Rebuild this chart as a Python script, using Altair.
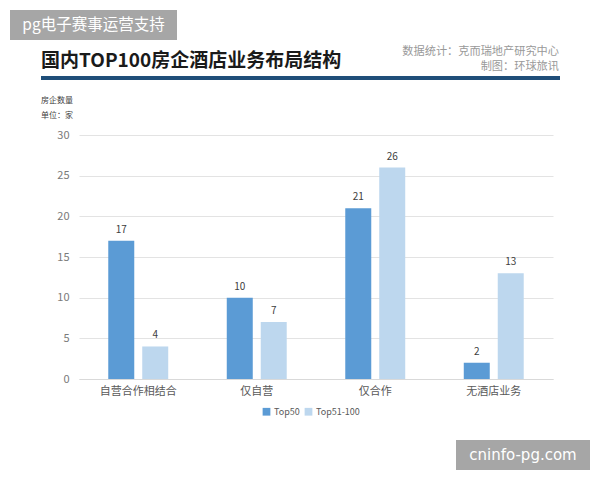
import altair as alt
import pandas as pd

categories = ["自营合作相结合", "仅自营", "仅合作", "无酒店业务"]
series = ["Top50", "Top51-100"]
top50 = [17, 10, 21, 2]
top51_100 = [4, 7, 26, 13]
colors = ["#5B9BD5", "#BDD7EE"]

rows = []
for c, a, b in zip(categories, top50, top51_100):
    rows.append({"类别": c, "系列": series[0], "数量": a})
    rows.append({"类别": c, "系列": series[1], "数量": b})
df = pd.DataFrame(rows)

FONT = "Noto Sans CJK SC"
OX, OY = 79, 135  # plot origin in page coordinates
W, H = 474, 244

x_enc = alt.X("类别:N", sort=categories,
              scale=alt.Scale(paddingInner=0.494, paddingOuter=0.247),
              axis=alt.Axis(title=None, labelAngle=0, labelFont=FONT, labelFontSize=11,
                            labelColor="#595959", ticks=False, domainColor="#d9d9d9",
                            labelPadding=6))
xo_enc = alt.XOffset("系列:N", sort=series, scale=alt.Scale(paddingInner=0.235, paddingOuter=0))
y_enc = alt.Y("数量:Q", scale=alt.Scale(domain=[0, 30]),
              axis=alt.Axis(title=None, values=[0, 5, 10, 15, 20, 25, 30], labelFont=FONT,
                            labelFontSize=11, labelColor="#7a7a7a", ticks=False, domain=False,
                            gridColor="#e3e3e3", labelPadding=10))
color_enc = alt.Color("系列:N", sort=series,
                      scale=alt.Scale(domain=series, range=colors),
                      legend=alt.Legend(title=None, orient="none", direction="horizontal",
                                        legendX=262 - OX, legendY=407 - OY,
                                        symbolType="square", symbolSize=60,
                                        symbolStrokeWidth=0,
                                        labelFont=FONT, labelFontSize=9, labelColor="#595959",
                                        columnPadding=4, labelOffset=3))

base = alt.Chart(df)
bars = base.mark_bar().encode(x=x_enc, xOffset=xo_enc, y=y_enc, color=color_enc)
labels = base.mark_text(baseline="bottom", dy=-6, font=FONT, fontSize=10, color="#404040").encode(
    x=alt.X("类别:N", sort=categories), xOffset=alt.XOffset("系列:N", sort=series),
    y="数量:Q", text="数量:Q")

one = pd.DataFrame({"k": [0]})
def text_at(txt, px, py, **kw):
    return alt.Chart(one).mark_text(text=txt, **kw).encode(
        x=alt.value(px - OX), y=alt.value(py - OY))

def rect_at(x1, y1, x2, y2, fill):
    return alt.Chart(one).mark_rect(color=fill).encode(
        x=alt.value(x1 - OX), x2=alt.value(x2 - OX),
        y=alt.value(y1 - OY), y2=alt.value(y2 - OY))

title = text_at("国内TOP100房企酒店业务布局结构", 41, 61, font=FONT, fontSize=19,
                fontWeight="bold", color="#1a1a1a", align="left", baseline="middle")
src1 = text_at("数据统计：克而瑞地产研究中心", 559, 52, font=FONT, fontSize=11.2,
               color="#999999", align="right", baseline="middle")
src2 = text_at("制图：环球旅讯", 559, 67, font=FONT, fontSize=11.2,
               color="#999999", align="right", baseline="middle")
line = rect_at(41, 76, 560, 80, "#1F4E79")
ytitle1 = text_at("房企数量", 41, 101, font=FONT, fontSize=8, color="#404040",
                  align="left", baseline="middle")
ytitle2 = text_at("单位：家", 41, 116, font=FONT, fontSize=8, color="#404040",
                  align="left", baseline="middle")
wm1_box = rect_at(10, 10, 177, 40, "#a6a6a6")
wm1 = text_at("pg电子赛事运营支持", 93.5, 25, font=FONT, fontSize=15.5, color="white",
              align="center", baseline="middle")
wm2_box = rect_at(456, 440, 590, 470, "#a6a6a6")
wm2 = text_at("cninfo-pg.com", 523, 455, font="DejaVu Sans", fontSize=15, color="white",
              align="center", baseline="middle")

chart = alt.layer(bars, labels, title, src1, src2, line, ytitle1, ytitle2,
                  wm1_box, wm1, wm2_box, wm2).properties(
    width=W, height=H, autosize="none",
    padding={"left": OX, "top": OY, "right": 600 - OX - W, "bottom": 480 - OY - H},
    background="white",
).configure_view(stroke=None)

chart.save("out.html", embed_options={"renderer": "svg", "actions": False})
